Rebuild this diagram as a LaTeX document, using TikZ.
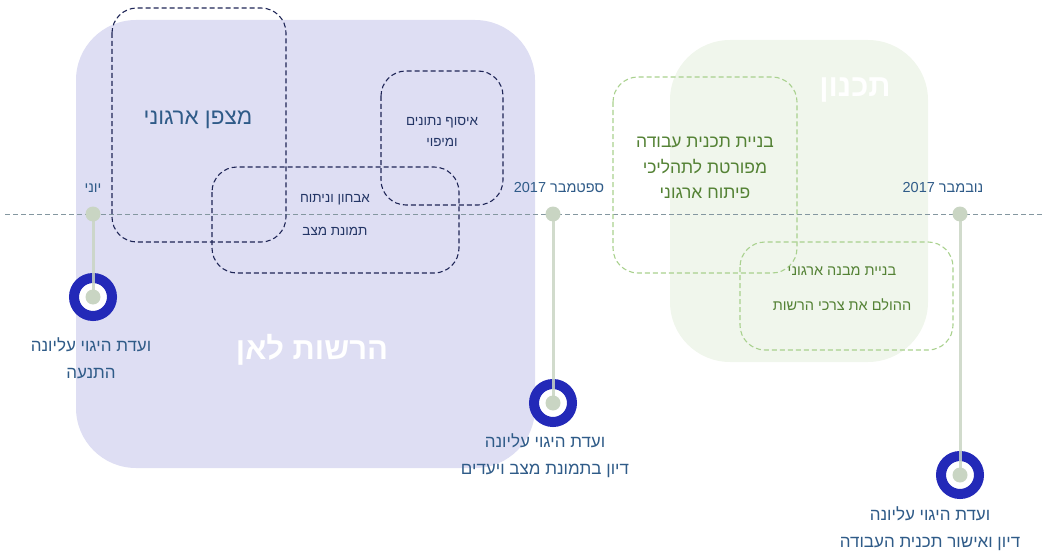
\documentclass[tikz,border=0pt]{standalone}
\usepackage{fontspec}
\setmainfont{Liberation Sans}
\newfontfamily\hebfont[Script=Hebrew]{Liberation Sans}
\TeXXeTstate=1
\definecolor{phase1}{HTML}{DEDEF3}
\definecolor{phase2}{HTML}{F0F6EC}
\definecolor{navy}{HTML}{1E2556}
\definecolor{lgreen}{HTML}{A9D18E}
\definecolor{dgreen}{HTML}{548235}
\definecolor{steel}{HTML}{2F5B88}
\definecolor{ring}{HTML}{2329B8}
\definecolor{stem}{HTML}{C9D5C3}
\definecolor{axis}{HTML}{8497A0}
\newcommand{\heb}[1]{\hebfont\beginR #1\endR}
\tikzset{
  phasebox/.style={rounded corners=60pt, draw=none},
  navybox/.style={draw=navy, dashed, line width=1.1pt, rounded corners=25pt, dash pattern=on 5pt off 3pt},
  greenbox/.style={draw=lgreen, dashed, line width=1.1pt, rounded corners=25pt, dash pattern=on 5pt off 3pt},
  dot/.style={circle, fill=stem, inner sep=0pt, minimum size=15pt},
  ringnode/.style={circle, draw=ring, line width=10pt, fill=white, inner sep=0pt, minimum size=38pt},
  lbl/.style={text=steel, font=\fontsize{14.5}{17}\selectfont, align=center},
  big/.style={text=steel, font=\fontsize{22.5}{26}\selectfont, align=center},
  small/.style={text=navy!70!steel, font=\fontsize{13.5}{21}\selectfont, align=center},
  gtext/.style={text=dgreen, font=\fontsize{17.5}{25.5}\selectfont, align=center},
  gsmall/.style={text=dgreen, font=\fontsize{14.5}{35}\selectfont, align=center},
  mlbl/.style={text=steel, font=\fontsize{17}{27}\selectfont, align=center},
  title/.style={text=white, font=\fontsize{31}{36}\selectfont\bfseries},
  stemline/.style={draw=stem, line width=3pt, opacity=0.85},
}
\begin{document}
\begin{tikzpicture}[x=1pt,y=-1pt]
\useasboundingbox (0,0) rectangle (1045,551);
% phase backgrounds
\fill[phase1, phasebox] (76,20) rectangle (535,468);
\fill[phase2, phasebox] (670,40) rectangle (928,362);
\node[title] (t1) at (312,350) {\heb{הרשות לאן}};
\node[title] (t2) at (855,90) {\heb{תכנון}};
% timeline
\coordinate (axL) at (5,214);
\coordinate (axR) at (1045,214);
\draw[axis, dashed, line width=1pt, dash pattern=on 5pt off 3pt] (axL) -- (axR);
% rings
\node[ringnode] (r1) at (93,297) {};
\node[ringnode] (r2) at (553,403) {};
\node[ringnode] (r3) at (960,475) {};
\node[dot] (d1) at (93,214) {};
\node[dot] (d2) at (553,214) {};
\node[dot] (d3) at (960,214) {};
\draw[stemline] (d1.center) -- (r1.center);
\draw[stemline] (d2.center) -- (r2.center);
\draw[stemline] (d3.center) -- (r3.center);
\node[dot] (c1) at (93,297) {};
\node[dot] (c2) at (553,403) {};
\node[dot] (c3) at (960,475) {};
% dates
\node[lbl] (m1) at (93,188) {\heb{יוני}};
\node[lbl] (m2) at (559,188) {\heb{ספטמבר \beginL 2017\endL}};
\node[lbl] (m3) at (943,188) {\heb{נובמבר \beginL 2017\endL}};
% meeting labels
\node[mlbl] (l1) at (91,358) {\heb{ועדת היגוי עליונה}\\\heb{התנעה}};
\node[mlbl] (l2) at (545,456) {\heb{ועדת היגוי עליונה}\\\heb{דיון בתמונת מצב ויעדים}};
\node[mlbl] (l3) at (930,529) {\heb{ועדת היגוי עליונה}\\\heb{דיון ואישור תכנית העבודה}};
% navy dashed boxes
\draw[navybox] (112,8) rectangle (286,242);
\draw[navybox] (381,71) rectangle (503,205);
\draw[navybox] (212,167) rectangle (459,273);
\node[big] (b1) at (198,120) {\heb{מצפן ארגוני}};
\node[small] (b2) at (442,132) {\heb{איסוף נתונים}\\\heb{ומיפוי}};
\node[small, font=\fontsize{13.5}{33}\selectfont] (b3) at (335,215) {\heb{אבחון וניתוח}\\\heb{תמונת מצב}};
% green dashed boxes
\draw[greenbox] (613,77) rectangle (797,273);
\draw[greenbox] (740,242) rectangle (953,350);
\node[gtext] (g1) at (705,168) {\heb{בניית תכנית עבודה}\\\heb{מפורטת לתהליכי}\\\heb{פיתוח ארגוני}};
\node[gsmall] (g2) at (842,289) {\heb{בניית מבנה ארגוני}\\\heb{ההולם את צרכי הרשות}};
\end{tikzpicture}
\end{document}
